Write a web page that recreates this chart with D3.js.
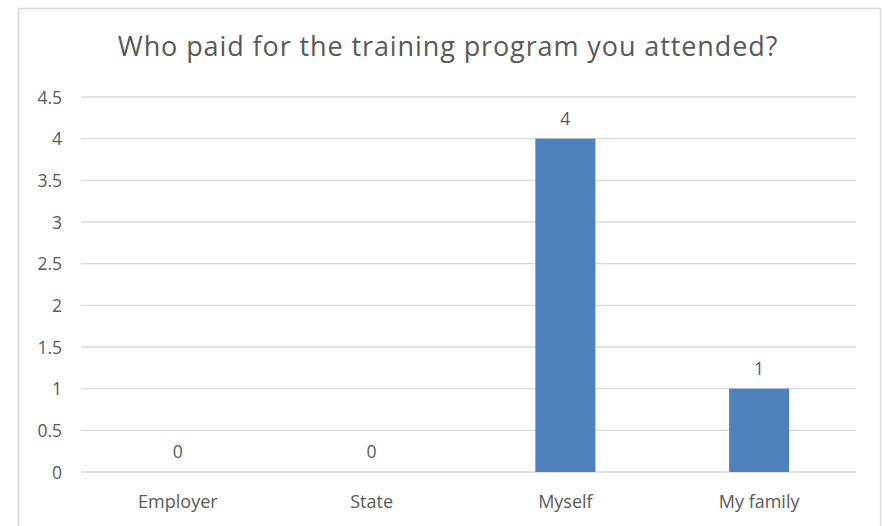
<!DOCTYPE html>
<html><head><meta charset="utf-8">
<script src="https://cdn.jsdelivr.net/npm/d3@7"></script>
<style>html,body{margin:0;padding:0;background:#fff;}svg{display:block;}</style>
</head><body>
<script>
const categories = ["Employer", "State", "Myself", "My family"];
const values = [0, 0, 4, 1];
const yTicks = [0, 0.5, 1, 1.5, 2, 2.5, 3, 3.5, 4, 4.5];
const title = "Who paid for the training program you attended?";

const W = 887, H = 526;
const svg = d3.select("body").append("svg").attr("width", W).attr("height", H);
const font = "'Open Sans', sans-serif";
const textColor = "#595959";

svg.append("rect").attr("x", 18.5).attr("y", 8.5).attr("width", 862).attr("height", 530)
  .attr("fill", "#fff").attr("stroke", "#d9d9d9").attr("stroke-width", 1.5);

const x = d3.scaleBand().domain(categories).range([81, 856]).padding(0);
const y = d3.scaleLinear().domain([0, 4.5]).range([472, 97]);

svg.append("text").attr("x", 448).attr("y", 56).attr("text-anchor", "middle")
  .attr("font-family", font).attr("font-size", 27).attr("letter-spacing", 0.9)
  .attr("fill", textColor).text(title);

const grid = svg.append("g");
grid.selectAll("line").data(yTicks).join("line")
  .attr("x1", 81).attr("x2", 856)
  .attr("y1", d => y(d)).attr("y2", d => y(d))
  .attr("stroke", "#d9d9d9").attr("stroke-width", 1.3);

const yAxis = svg.append("g").attr("transform", "translate(62,0)")
  .call(d3.axisLeft(y).tickValues(yTicks).tickSize(0).tickPadding(0).tickFormat(d => String(d)));
yAxis.select(".domain").remove();
yAxis.selectAll("text").attr("font-family", font).attr("font-size", 17.5).attr("fill", textColor)
  .attr("dy", "0.36em");

const xAxis = svg.append("g").attr("transform", "translate(0,472)")
  .call(d3.axisBottom(x).tickSize(0).tickPadding(0));
xAxis.select(".domain").remove();
xAxis.selectAll("text").attr("font-family", font).attr("font-size", 18).attr("fill", textColor)
  .attr("dy", 0).attr("y", 36);

const bw = x.bandwidth() * 0.31;
svg.selectAll("rect.bar").data(values).join("rect").attr("class", "bar")
  .attr("x", (d, i) => x(categories[i]) + x.bandwidth() / 2 - bw / 2)
  .attr("width", bw)
  .attr("y", d => y(d))
  .attr("height", d => y(0) - y(d))
  .attr("fill", "#4f81bd");

svg.selectAll("text.lbl").data(values).join("text").attr("class", "lbl")
  .attr("x", (d, i) => x(categories[i]) + x.bandwidth() / 2)
  .attr("y", d => y(d) - 14)
  .attr("text-anchor", "middle")
  .attr("font-family", font).attr("font-size", 17.5).attr("fill", textColor)
  .text(d => d);
</script>
</body></html>
